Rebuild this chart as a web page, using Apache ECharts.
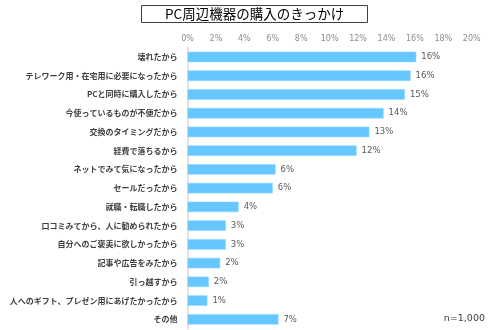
<!DOCTYPE html>
<html><head><meta charset="utf-8">
<script src="https://cdn.jsdelivr.net/npm/echarts@6/dist/echarts.min.js"></script>
<style>html,body{margin:0;padding:0;background:#fff}#c{width:495px;height:330px}</style>
</head><body><div id="c"></div>
<script>
const categories = ["壊れたから","テレワーク用・在宅用に必要になったから","PCと同時に購入したから","今使っているものが不便だから","交換のタイミングだから","経費で落ちるから","ネットでみて気になったから","セールだったから","就職・転職したから","口コミみてから、人に勧められたから","自分へのご褒美に欲しかったから","記事や広告をみたから","引っ越すから","人へのギフト、プレゼン用にあげたかったから","その他"];
const values = [16.1, 15.7, 15.3, 13.8, 12.8, 11.9, 6.2, 6.0, 3.6, 2.7, 2.7, 2.3, 1.5, 1.4, 6.4];
const valueLabels = ["16%","16%","15%","14%","13%","12%","6%","6%","4%","3%","3%","2%","2%","1%","7%"];
const tickLabels = ["0%","2%","4%","6%","8%","10%","12%","14%","16%","18%","20%"];
const chart = echarts.init(document.getElementById('c'), null, {renderer:'canvas'});
chart.setOption({
  animation:false,
  textStyle:{fontFamily:'"Noto Sans CJK JP", sans-serif'},
  title:[{
    text:'PC周辺機器の購入のきっかけ',
    left:141, top:5,
    padding:[1,24,1,24],
    borderWidth:1, borderColor:'#404040',
    textStyle:{fontSize:13.5, fontWeight:'normal', color:'#000', fontFamily:'"Noto Sans CJK JP", sans-serif', lineHeight:16}
  },{
    text:'n=1,000',
    right:10, top:314,
    padding:0,
    textStyle:{fontSize:9.5, fontWeight:'normal', color:'#404040', fontFamily:'"DejaVu Sans", sans-serif'}
  }],
  grid:{left:187.5, right:23.3, top:47.6, bottom:1.3, containLabel:false, outerBoundsMode:'none'},
  xAxis:{
    type:'value', position:'top', min:0, max:20, interval:2,
    axisLine:{show:false}, axisTick:{show:false}, splitLine:{show:false},
    axisLabel:{margin:5, fontSize:8, color:'#8c8c8c', fontFamily:'"DejaVu Sans", sans-serif',
      formatter:(v)=>tickLabels[Math.round(v/2)]}
  },
  yAxis:{
    type:'category', data:categories, inverse:true,
    axisLine:{show:true, lineStyle:{color:'#d9d9d9', width:1.5}},
    axisTick:{show:false},
    axisLabel:{margin:10, fontSize:8, fontWeight:'bold', color:'#404040'}
  },
  series:[{
    type:'bar', data:values, barWidth:10.5,
    itemStyle:{color:'#66c7ff', borderColor:'#8fd6ff', borderWidth:0.6},
    label:{show:true, position:'right', distance:5, fontSize:8.5, color:'#595959',
      fontFamily:'"DejaVu Sans", sans-serif',
      formatter:(p)=>valueLabels[p.dataIndex]}
  }]
});
</script></body></html>
